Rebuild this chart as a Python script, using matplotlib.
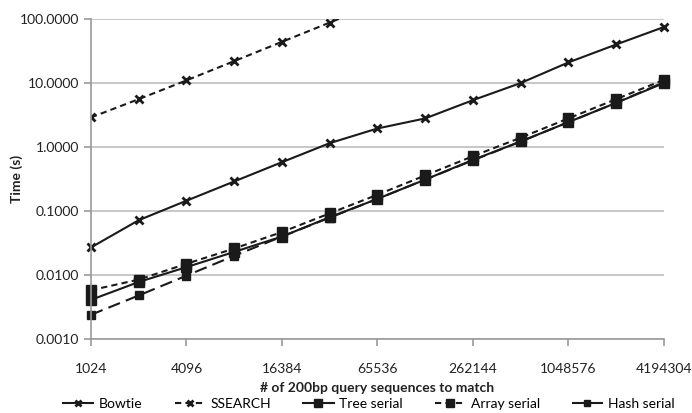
import matplotlib.pyplot as plt
from matplotlib.ticker import FixedLocator, NullLocator

# --- Data ---
queries = [1024, 2048, 4096, 8192, 16384, 32768, 65536, 131072,
           262144, 524288, 1048576, 2097152, 4194304]
bowtie = [0.027, 0.072, 0.145, 0.29, 0.58, 1.15, 1.95, 2.8,
          5.4, 10.0, 21.0, 40.0, 75.0]
ssearch_x = [1024, 2048, 4096, 8192, 16384, 32768, 65536]
ssearch = [2.9, 5.6, 11.0, 22.0, 44.0, 88.0, 176.0]
tree = [0.0041, 0.0078, 0.0133, 0.023, 0.040, 0.080, 0.155, 0.31,
        0.63, 1.22, 2.45, 4.9, 10.0]
array = [0.0058, 0.0085, 0.0150, 0.026, 0.047, 0.092, 0.18, 0.36,
         0.72, 1.40, 2.8, 5.6, 11.2]
hash_ = [0.0024, 0.0048, 0.0098, 0.020, 0.040, 0.079, 0.155, 0.31,
         0.62, 1.22, 2.45, 4.9, 10.3]

xtick_vals = [1024, 4096, 16384, 65536, 262144, 1048576, 4194304]
ytick_vals = [0.001, 0.01, 0.1, 1, 10, 100]
ytick_labels = ['0.0010', '0.0100', '0.1000', '1.0000', '10.0000', '100.0000']

plt.rcParams['font.family'] = ['Lato', 'DejaVu Sans']

fig = plt.figure(figsize=(6.92, 4.13), dpi=100)
ax = fig.add_axes([0.1315, 0.179, 0.828, 0.775])

c = '#1a1a1a'
lw = 1.5
ax.plot(queries, bowtie, color=c, lw=lw, marker='x', ms=6, mew=2,
        label='Bowtie', clip_on=False)
ax.plot(ssearch_x, ssearch, color=c, lw=lw, ls=(0, (3, 2)), marker='x',
        ms=6, mew=2, label='SSEARCH')
ax.plot(queries, tree, color=c, lw=lw, marker='s', ms=6.5,
        label='Tree serial', clip_on=False)
ax.plot(queries, array, color=c, lw=lw, ls=(0, (3, 2)), marker='s', ms=6.5,
        label='Array serial', clip_on=False)
ax.plot(queries, hash_, color=c, lw=lw, ls=(0, (6, 3)), marker='s', ms=6,
        label='Hash serial', clip_on=False)

ax.set_xscale('log', base=2)
ax.set_yscale('log')
ax.set_xlim(1024, 4194304)
ax.set_ylim(0.001, 100)

ax.xaxis.set_major_locator(FixedLocator(xtick_vals))
ax.xaxis.set_minor_locator(NullLocator())
ax.set_xticklabels([str(v) for v in xtick_vals])
ax.yaxis.set_major_locator(FixedLocator(ytick_vals))
ax.yaxis.set_minor_locator(NullLocator())
ax.set_yticklabels(ytick_labels)

ax.grid(axis='y', color='#bdbdbd', lw=1.2)
ax.set_axisbelow(True)
for side in ['top', 'right']:
    ax.spines[side].set_visible(False)
for side in ['left', 'bottom']:
    ax.spines[side].set_color('#9a9a9a')
    ax.spines[side].set_linewidth(1.2)
ax.tick_params(axis='both', colors='#9a9a9a', length=5, width=1.2,
               labelcolor='#222222', labelsize=10)
ax.tick_params(axis='x', pad=12)

ax.set_ylabel('Time (s)', fontsize=10, fontweight='bold', color='#222222')
ax.yaxis.set_label_coords(-0.118, 0.5)
ax.set_xlabel('# of 200bp query sequences to match', fontsize=10,
              fontweight='bold', color='#222222', labelpad=5)

# legend placed in figure coords so it sits under the x label
fig.legend(loc='center', bbox_to_anchor=(0.533, 0.022), ncol=5,
           frameon=False, fontsize=10, handlelength=2.2, columnspacing=2.3,
           handletextpad=0.4, borderaxespad=0, borderpad=0, markerscale=0.8)

fig.savefig('out.png', dpi=100)
